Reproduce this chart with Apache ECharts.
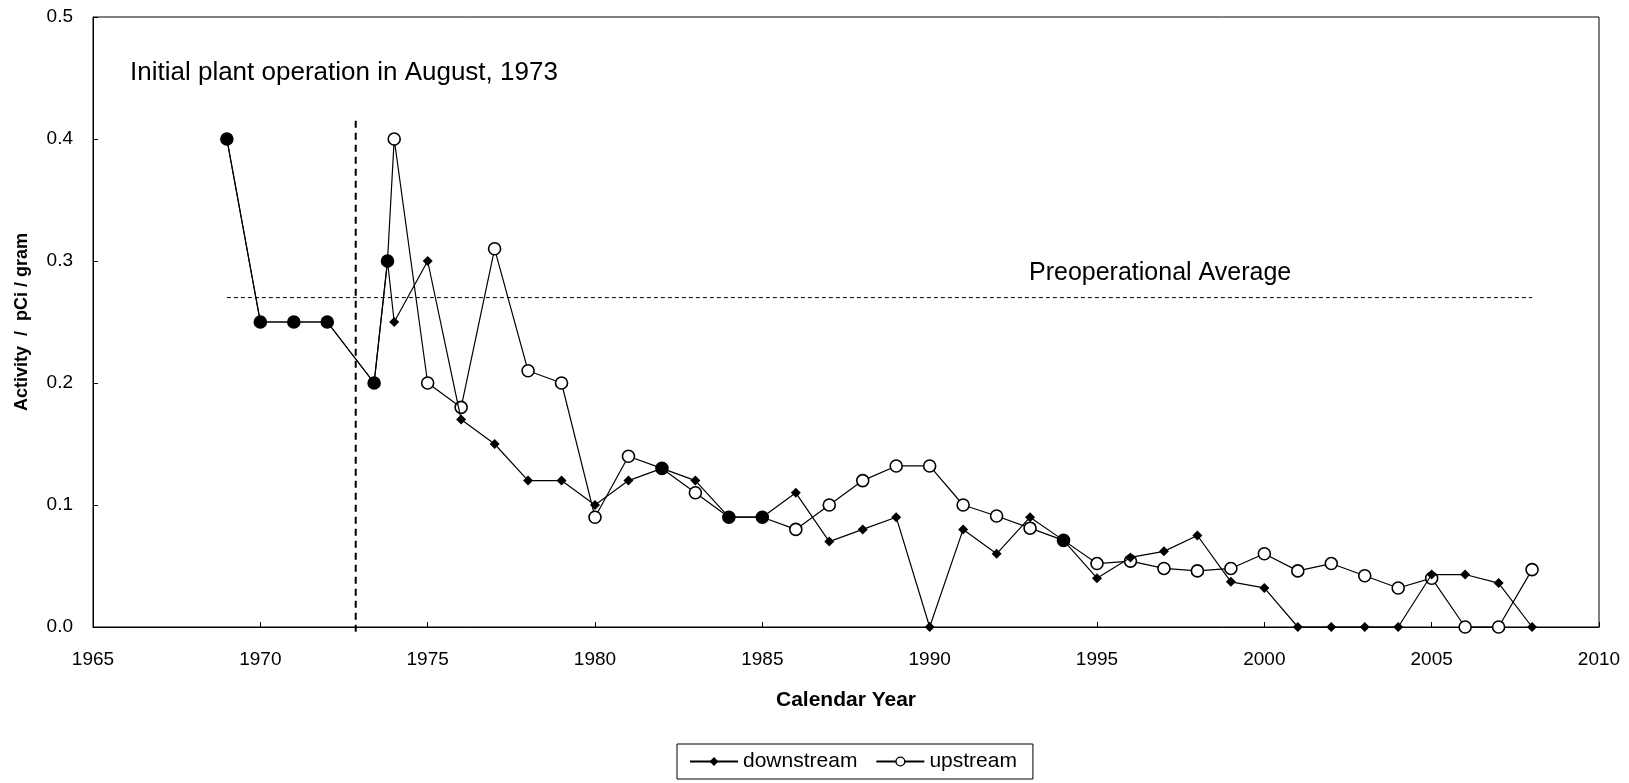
<!DOCTYPE html>
<html>
<head>
<meta charset="utf-8">
<script src="https://cdn.jsdelivr.net/npm/echarts@6/dist/echarts.min.js"></script>
<style>
html,body{margin:0;padding:0;background:#fff;}
#chart{width:1629px;height:783px;}
</style>
</head>
<body>
<div id="chart"></div>
<script>
// ---- data ----
const years = [1969, 1970, 1971, 1972, 1973.4, 1973.8, 1974, 1975, 1976, 1977, 1978, 1979, 1980, 1981, 1982, 1983, 1984, 1985, 1986, 1987, 1988, 1989, 1990, 1991, 1992, 1993, 1994, 1995, 1996, 1997, 1998, 1999, 2000, 2001, 2002, 2003, 2004, 2005, 2006, 2007, 2008];
const downstream = [0.40, 0.25, 0.25, 0.25, 0.20, 0.30, 0.25, 0.30, 0.17, 0.15, 0.12, 0.12, 0.10, 0.12, 0.13, 0.12, 0.09, 0.09, 0.11, 0.07, 0.08, 0.09, 0.00, 0.08, 0.06, 0.09, 0.071, 0.04, 0.057, 0.062, 0.075, 0.037, 0.032, 0.00, 0.00, 0.00, 0.00, 0.043, 0.043, 0.036, 0.00];
const upstream = [0.40, 0.25, 0.25, 0.25, 0.20, 0.30, 0.40, 0.20, 0.18, 0.31, 0.21, 0.20, 0.09, 0.14, 0.13, 0.11, 0.09, 0.09, 0.08, 0.10, 0.12, 0.132, 0.132, 0.10, 0.091, 0.081, 0.071, 0.052, 0.054, 0.048, 0.046, 0.048, 0.060, 0.046, 0.052, 0.042, 0.032, 0.040, 0.00, 0.00, 0.047];
const seriesNames = ['downstream', 'upstream'];
const preopAverage = 0.27;
const preopYears = [1969, 2008];
const plantStartYear = 1972.85;
const plantLineSpan = [0.415, -0.006];
const xTicks = [1965, 2010, 5];
const yTicks = [0, 0.5, 0.1];
const texts = {
  xTitle: 'Calendar Year',
  yTitle: 'Activity  /  pCi / gram',
  note: 'Initial plant operation in August, 1973',
  preop: 'Preoperational Average'
};

// ---- chart ----
const FONT = '"Liberation Sans", Arial, sans-serif';
const chart = echarts.init(document.getElementById('chart'), null, {renderer: 'canvas'});

const pair = (xs, ys) => xs.map((x, i) => [x, ys[i]]);
// upstream points that coincide with downstream ones look solid in the original
const upstreamData = years.map((x, i) => {
  const item = {value: [x, upstream[i]]};
  if (upstream[i] === downstream[i]) item.itemStyle = {color: '#000'};
  return item;
});

const option = {
  backgroundColor: '#fff',
  animation: false,
  textStyle: {fontFamily: FONT, color: '#000'},
  grid: {
    left: 93, right: 30, top: 17, bottom: 156,
    show: true, borderColor: '#000', borderWidth: 1,
    containLabel: false, outerBoundsMode: 'none'
  },
  legend: {
    data: [
      {name: seriesNames[0]},
      {name: seriesNames[1], itemStyle: {color: '#fff', borderColor: '#000', borderWidth: 1.4}}
    ],
    left: 677, top: 744,
    orient: 'horizontal',
    borderColor: '#000', borderWidth: 1, borderRadius: 0,
    padding: [7, 16, 7, 12],
    itemGap: 18,
    itemWidth: 48, itemHeight: 11,
    textStyle: {fontFamily: FONT, fontSize: 21, color: '#000'},
    selectedMode: false
  },
  xAxis: {
    type: 'value',
    min: xTicks[0], max: xTicks[1], interval: xTicks[2],
    name: texts.xTitle, nameLocation: 'middle', nameGap: 63,
    nameTextStyle: {fontFamily: FONT, fontSize: 21, fontWeight: 'bold', color: '#000'},
    axisLine: {show: true, onZero: false, lineStyle: {color: '#000', width: 1}},
    axisTick: {show: true, inside: true, length: 5, lineStyle: {color: '#000'}},
    axisLabel: {fontFamily: FONT, fontSize: 19, color: '#000', margin: 23,
      formatter: v => String(v)},
    splitLine: {show: false}
  },
  yAxis: {
    type: 'value',
    min: yTicks[0], max: yTicks[1], interval: yTicks[2],
    name: texts.yTitle, nameLocation: 'middle', nameGap: 62, nameRotate: 90,
    nameTextStyle: {fontFamily: FONT, fontSize: 18, fontWeight: 'bold', color: '#000'},
    axisLine: {show: true, lineStyle: {color: '#000', width: 1}},
    axisTick: {show: true, inside: true, length: 5, lineStyle: {color: '#000'}},
    axisLabel: {fontFamily: FONT, fontSize: 19, color: '#000', margin: 20,
      formatter: v => v.toFixed(1)},
    splitLine: {show: false}
  },
  graphic: [
    {type: 'text', left: 130, top: 60, silent: true,
     style: {text: texts.note, font: '26px ' + FONT, fill: '#000'}},
    {type: 'text', left: 1029, top: 261, silent: true,
     style: {text: texts.preop, font: '25px ' + FONT, fill: '#000'}}
  ],
  series: [
    {
      name: 'preop', type: 'line', silent: true, z: 1,
      data: preopYears.map(x => [x, preopAverage]),
      symbol: 'none',
      lineStyle: {color: '#000', width: 1, type: [4, 3]}
    },
    {
      name: 'plantStart', type: 'line', silent: true, z: 1, clip: false,
      data: plantLineSpan.map(y => [plantStartYear, y]),
      symbol: 'none',
      lineStyle: {color: '#000', width: 2, type: [7, 5]}
    },
    {
      name: seriesNames[1], type: 'line', z: 3,
      data: upstreamData,
      symbol: 'circle', symbolSize: 12,
      itemStyle: {color: '#fff', borderColor: '#000', borderWidth: 1.6},
      lineStyle: {color: '#000', width: 1.2}
    },
    {
      name: seriesNames[0], type: 'line', z: 4,
      data: pair(years, downstream),
      symbol: 'diamond', symbolSize: 10,
      itemStyle: {color: '#000', borderColor: '#000', borderWidth: 0},
      lineStyle: {color: '#000', width: 1.2}
    }
  ]
};
chart.setOption(option);
</script>
</body>
</html>
